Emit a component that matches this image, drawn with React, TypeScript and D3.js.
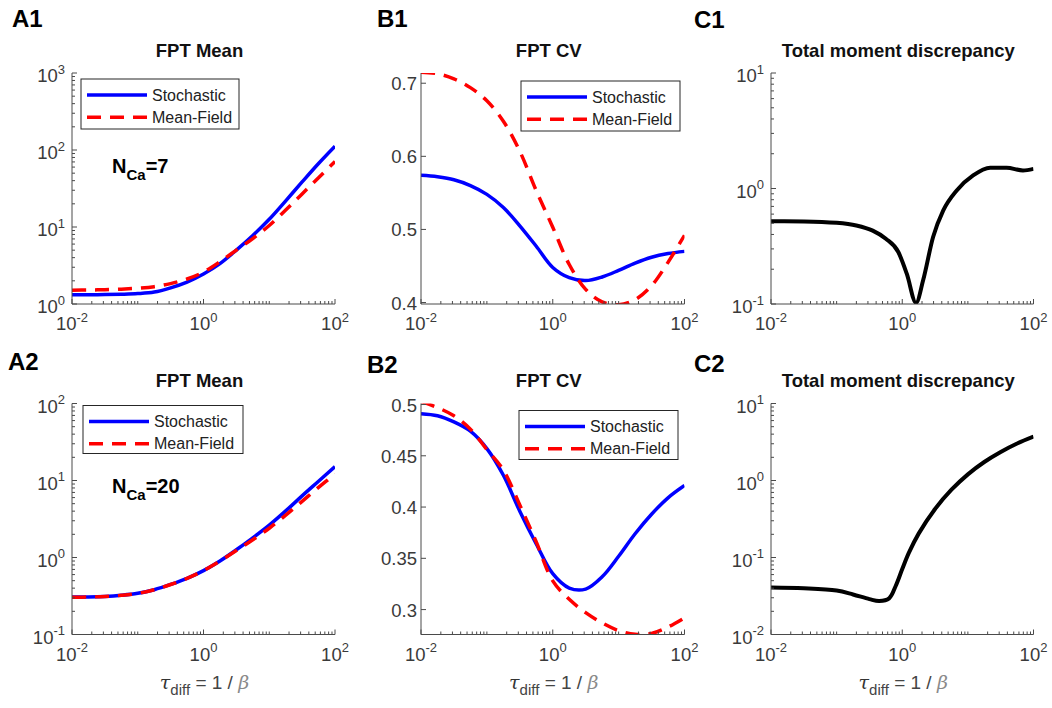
import React from 'react';
import * as d3 from 'd3';

// ---------------- data ----------------
const TAU = [0.01, 0.0178, 0.0316, 0.0562, 0.1, 0.178, 0.316, 0.562, 1, 1.78, 3.16, 5.62, 10, 17.8, 31.6, 56.2, 100];

const A1_STOCH = [1.318, 1.318, 1.327, 1.34, 1.365, 1.429, 1.622, 1.928, 2.455, 3.35, 5.012, 7.762, 12.59, 21.88, 38.46, 66.83, 112.2];
const A1_MF = [1.514, 1.521, 1.535, 1.56, 1.603, 1.679, 1.841, 2.113, 2.6, 3.548, 5.012, 7.079, 10.47, 16.6, 26.92, 43.65, 70.8];

const B1_STOCH = [0.574, 0.572, 0.568, 0.56, 0.548, 0.53, 0.505, 0.477, 0.448, 0.434, 0.43, 0.435, 0.444, 0.454, 0.462, 0.467, 0.47];
const B1_MF = [0.715, 0.713, 0.706, 0.694, 0.676, 0.648, 0.607, 0.553, 0.503, 0.452, 0.418, 0.401, 0.397, 0.404, 0.423, 0.455, 0.492];

const C1_TAU = [0.01, 0.0316, 0.1, 0.1995, 0.3548, 0.5623, 0.871, 1.175, 1.622, 2.089, 2.951, 4.217, 6.761, 12.02, 21.88, 38.9, 69.18, 100];
const C1_DISC = [0.5212, 0.5188, 0.5047, 0.4786, 0.4315, 0.3673, 0.2818, 0.182, 0.1023, 0.162, 0.3802, 0.6457, 0.9616, 1.297, 1.514, 1.514, 1.432, 1.479];

const A2_STOCH = [0.3069, 0.3076, 0.3126, 0.3236, 0.3428, 0.3819, 0.4467, 0.537, 0.6761, 0.9016, 1.259, 1.8, 2.63, 4.027, 6.31, 9.772, 15.14];
const A2_MF = [0.305, 0.3066, 0.3116, 0.3226, 0.3418, 0.3809, 0.4457, 0.536, 0.6751, 0.8995, 1.23, 1.698, 2.399, 3.548, 5.37, 8.128, 12.13];

const B2_STOCH = [0.491, 0.489, 0.483, 0.474, 0.457, 0.431, 0.396, 0.364, 0.335, 0.321, 0.32, 0.332, 0.352, 0.374, 0.393, 0.409, 0.421];
const B2_MF = [0.503, 0.497, 0.489, 0.476, 0.456, 0.436, 0.402, 0.366, 0.328, 0.31, 0.297, 0.287, 0.2795, 0.276, 0.2768, 0.283, 0.292];

const C2_TAU = [0.01, 0.0316, 0.1, 0.1778, 0.3162, 0.4467, 0.631, 0.7943, 1, 1.259, 1.778, 3.162, 5.623, 10, 17.78, 31.62, 56.23, 100];
const C2_DISC = [0.0407, 0.0398, 0.0372, 0.0331, 0.0288, 0.0272, 0.0295, 0.0427, 0.0708, 0.1148, 0.2042, 0.4266, 0.7586, 1.202, 1.738, 2.344, 3.02, 3.715];

const X_DOMAIN: [number, number] = [0.01, 100];
const X_LABELED = [0.01, 1, 100];
const B1_TICKS = [0.4, 0.5, 0.6, 0.7];
const B2_TICKS = [0.3, 0.35, 0.4, 0.45, 0.5];
const SERIES_NAMES = ['Stochastic', 'Mean-Field'];
const TITLES = ['FPT Mean', 'FPT CV', 'Total moment discrepancy'];
const LETTERS = ['A1', 'B1', 'C1', 'A2', 'B2', 'C2'];
const N_CA = ['7', '20'];

// ---------------- styling ----------------
const FONT = '"Liberation Sans", Arial, Helvetica, sans-serif';
const AXIS_COLOR = '#4a4a4a';
const TICK_TEXT = '#3a3a3a';
const BLUE = '#0000ff';
const RED = '#ff0000';
const DASH = '14 9';

type Line = { x: number[]; y: number[]; color: string; dash?: string; width: number; sharp?: boolean };

type PanelProps = {
  id: string;
  left: number; right: number; top: number; bottom: number;
  yLog: boolean;
  yDomain: [number, number];
  yTicks?: number[];
  lines: Line[];
  title: string;
  letter: string; letterX: number; letterY: number;
  legend?: { x: number; y: number; w: number; h: number };
  annotation?: { x: number; y: number; value: string };
  xLabel?: boolean;
};

function supText(x: number, y: number, exp: number, anchor: string, key: string) {
  return (
    <text key={key} x={x} y={y} textAnchor={anchor} fontSize={18.5} fill={TICK_TEXT} fontFamily={FONT}>
      <tspan>10</tspan>
      <tspan fontSize={13} dy={-8.5}>{String(exp)}</tspan>
    </text>
  );
}

function Panel(p: PanelProps) {
  const xs = d3.scaleLog().domain(X_DOMAIN).range([p.left, p.right]);
  const ys: any = p.yLog
    ? d3.scaleLog().domain(p.yDomain).range([p.bottom, p.top])
    : d3.scaleLinear().domain(p.yDomain).range([p.bottom, p.top]);

  const xTickVals = xs.ticks();
  const isPow = (v: number) => Math.abs(Math.log10(v) - Math.round(Math.log10(v))) < 1e-9;

  const elems: React.ReactNode[] = [];
  xTickVals.forEach((v, i) => {
    const major = X_LABELED.some((t) => Math.abs(t - v) < 1e-12);
    const len = major ? 5 : 3;
    const px = xs(v);
    elems.push(<line key={'xt' + i} x1={px} x2={px} y1={p.bottom} y2={p.bottom - len} stroke={AXIS_COLOR} strokeWidth={1} />);
  });
  X_LABELED.forEach((v, i) => {
    elems.push(supText(xs(v), p.bottom + 26, Math.round(Math.log10(v)), 'middle', 'xl' + i));
  });

  if (p.yLog) {
    const yt = ys.ticks();
    yt.forEach((v: number, i: number) => {
      const major = isPow(v);
      const py = ys(v);
      elems.push(<line key={'yt' + i} x1={p.left} x2={p.left + (major ? 5 : 3)} y1={py} y2={py} stroke={AXIS_COLOR} strokeWidth={1} />);
      if (major) elems.push(supText(p.left - 7, py + 9, Math.round(Math.log10(v)), 'end', 'yl' + i));
    });
  } else {
    (p.yTicks || []).forEach((v, i) => {
      const py = ys(v);
      elems.push(<line key={'yt' + i} x1={p.left} x2={p.left + 5} y1={py} y2={py} stroke={AXIS_COLOR} strokeWidth={1} />);
      elems.push(
        <text key={'yl' + i} x={p.left - 4} y={py + 7} textAnchor="end" fontSize={18.5} fill={TICK_TEXT} fontFamily={FONT}>
          {String(v)}
        </text>
      );
    });
  }

  const gen = (l: Line) =>
    d3
      .line<[number, number]>()
      .x((d) => xs(d[0]))
      .y((d) => ys(d[1]))
      .curve(l.sharp ? d3.curveMonotoneX : d3.curveCatmullRom.alpha(0.5))(
        l.x.map((xv, i) => [xv, l.y[i]] as [number, number])
      ) || '';

  const clipId = 'clip-' + p.id;
  const cx = (p.left + p.right) / 2;

  return (
    <g>
      <defs>
        <clipPath id={clipId}>
          <rect x={p.left} y={p.top} width={p.right - p.left} height={p.bottom - p.top} />
        </clipPath>
      </defs>
      <g clipPath={`url(#${clipId})`}>
        {p.lines.map((l, i) => (
          <path key={'ln' + i} d={gen(l)} fill="none" stroke={l.color} strokeWidth={l.width} strokeDasharray={l.dash} strokeLinejoin="round" />
        ))}
      </g>
      <line x1={p.left} x2={p.left} y1={p.top} y2={p.bottom} stroke={AXIS_COLOR} strokeWidth={1} />
      <line x1={p.left} x2={p.right} y1={p.bottom} y2={p.bottom} stroke={AXIS_COLOR} strokeWidth={1} />
      {elems}
      <text x={cx - 4} y={p.top - 16.3} textAnchor="middle" fontSize={18.5} fontWeight="bold" fill="#111" fontFamily={FONT}>
        {p.title}
      </text>
      <text x={p.letterX} y={p.letterY} fontSize={24} fontWeight="bold" fill="#000" fontFamily={FONT}>
        {p.letter}
      </text>
      {p.legend && (
        <g>
          <rect x={p.legend.x} y={p.legend.y} width={p.legend.w} height={p.legend.h} fill="#fff" stroke="#262626" strokeWidth={1} />
          {SERIES_NAMES.map((name, i) => {
            const ry = p.legend!.y + 16 + i * 22.3;
            const l = p.lines[i];
            return (
              <g key={'lg' + i}>
                <line x1={p.legend!.x + 6} x2={p.legend!.x + 66} y1={ry} y2={ry} stroke={l.color} strokeWidth={l.width} strokeDasharray={l.dash} />
                <text x={p.legend!.x + 71} y={ry + 5.5} fontSize={16} fill="#222" fontFamily={FONT}>
                  {name}
                </text>
              </g>
            );
          })}
        </g>
      )}
      {p.annotation && (
        <text x={p.annotation.x} y={p.annotation.y} fontSize={20} fontWeight="bold" fill="#000" fontFamily={FONT}>
          <tspan>N</tspan>
          <tspan fontSize={15} dy={7}>Ca</tspan>
          <tspan dy={-7}>{'=' + p.annotation.value}</tspan>
        </text>
      )}
      {p.xLabel && (
        <text x={cx + 1} y={p.bottom + 54} textAnchor="middle" fontSize={19} fill="#444" fontFamily={FONT}>
          <tspan fontStyle="italic" fontFamily='"DejaVu Serif", "Liberation Serif", serif' fill="#333">τ</tspan>
          <tspan fontSize={15} dy={6} fill="#444">diff</tspan>
          <tspan dy={-6} fill="#444">{' = 1 / '}</tspan>
          <tspan fontStyle="italic" fontFamily='"DejaVu Serif", "Liberation Serif", serif' fill="#8a8a8a">β</tspan>
        </text>
      )}
    </g>
  );
}

const COLS = [
  { l: 72, r: 335 },
  { l: 421, r: 684.5 },
  { l: 771, r: 1033.5 },
];
const ROWS = [
  { t: 73, b: 304 },
  { t: 403.5, b: 634.5 },
];

export default function App() {
  const panels: PanelProps[] = [
    {
      id: 'a1', left: COLS[0].l, right: COLS[0].r, top: ROWS[0].t, bottom: ROWS[0].b,
      yLog: true, yDomain: [1, 1000],
      lines: [
        { x: TAU, y: A1_STOCH, color: BLUE, width: 3.5 },
        { x: TAU, y: A1_MF, color: RED, dash: DASH, width: 3.5 },
      ],
      title: TITLES[0], letter: LETTERS[0], letterX: 12, letterY: 27,
      legend: { x: 81, y: 79, w: 158, h: 50 },
      annotation: { x: 112, y: 173, value: N_CA[0] },
    },
    {
      id: 'b1', left: COLS[1].l, right: COLS[1].r, top: ROWS[0].t, bottom: ROWS[0].b,
      yLog: false, yDomain: [0.398, 0.714], yTicks: B1_TICKS,
      lines: [
        { x: TAU, y: B1_STOCH, color: BLUE, width: 3.5 },
        { x: TAU, y: B1_MF, color: RED, dash: DASH, width: 3.5 },
      ],
      title: TITLES[1], letter: LETTERS[1], letterX: 377, letterY: 27,
      legend: { x: 521, y: 81, w: 159, h: 50 },
    },
    {
      id: 'c1', left: COLS[2].l, right: COLS[2].r, top: ROWS[0].t, bottom: ROWS[0].b,
      yLog: true, yDomain: [0.1, 10],
      lines: [{ x: C1_TAU, y: C1_DISC, color: '#000', width: 4, sharp: true }],
      title: TITLES[2], letter: LETTERS[2], letterX: 694, letterY: 28,
    },
    {
      id: 'a2', left: COLS[0].l, right: COLS[0].r, top: ROWS[1].t, bottom: ROWS[1].b,
      yLog: true, yDomain: [0.1, 100],
      lines: [
        { x: TAU, y: A2_STOCH, color: BLUE, width: 3.5 },
        { x: TAU, y: A2_MF, color: RED, dash: DASH, width: 3.5 },
      ],
      title: TITLES[0], letter: LETTERS[3], letterX: 8, letterY: 370,
      legend: { x: 83, y: 405.5, w: 160, h: 48 },
      annotation: { x: 112, y: 493, value: N_CA[1] },
      xLabel: true,
    },
    {
      id: 'b2', left: COLS[1].l, right: COLS[1].r, top: ROWS[1].t, bottom: ROWS[1].b,
      yLog: false, yDomain: [0.2757, 0.501], yTicks: B2_TICKS,
      lines: [
        { x: TAU, y: B2_STOCH, color: BLUE, width: 3.5 },
        { x: TAU, y: B2_MF, color: RED, dash: DASH, width: 3.5 },
      ],
      title: TITLES[1], letter: LETTERS[4], letterX: 367, letterY: 373,
      legend: { x: 519, y: 410.5, w: 159, h: 49 },
      xLabel: true,
    },
    {
      id: 'c2', left: COLS[2].l, right: COLS[2].r, top: ROWS[1].t, bottom: ROWS[1].b,
      yLog: true, yDomain: [0.01, 10],
      lines: [{ x: C2_TAU, y: C2_DISC, color: '#000', width: 4 }],
      title: TITLES[2], letter: LETTERS[5], letterX: 694, letterY: 372,
      xLabel: true,
    },
  ];

  return (
    <svg
      width={1052}
      height={708}
      viewBox="0 0 1052 708"
      style={{ position: 'absolute', left: 0, top: 0, background: '#fff', display: 'block' }}
    >
      <rect x={0} y={0} width={1052} height={708} fill="#fff" />
      {panels.map((p) => (
        <Panel key={p.id} {...p} />
      ))}
    </svg>
  );
}
